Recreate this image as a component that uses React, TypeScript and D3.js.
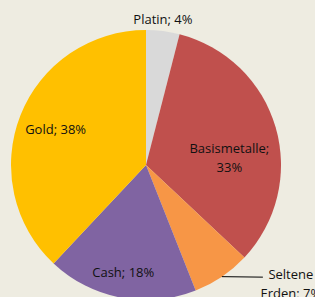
import { pie, arc } from 'd3';

const categories = ['Platin', 'Basismetalle', 'Seltene Erden', 'Cash', 'Gold'];
const shares = [4, 33, 7, 18, 38];
const labelLines = [
  ['Platin; 4%'],
  ['Basismetalle;', '33%'],
  ['Seltene', 'Erden; 7%'],
  ['Cash; 18%'],
  ['Gold; 38%'],
];
const colors = ['#d9d9d9', '#c0504d', '#f79646', '#8064a2', '#ffc000'];

const width = 315;
const height = 297;
const cx = 146;
const cy = 165;
const radius = 135;
const lineH = 19;

// label placement: radius factor and angle nudge (deg) from slice mid angle
const labelLayout = [
  { f: 1.09, da: -0.6 },
  { f: 0.62, da: 11 },
  { f: 1, da: 0, leader: true },
  { f: 0.81, da: 1.2 },
  { f: 0.72, da: 0 },
];

const App = () => {
  const data = categories.map((c, i) => ({ label: c, value: shares[i], color: colors[i], lines: labelLines[i] }));
  const arcs = pie<any>().value((d) => d.value).sort(null)(data);
  const arcGen = arc<any>().innerRadius(0).outerRadius(radius);

  return (
    <svg
      width={width}
      height={height}
      style={{ position: 'absolute', left: 0, top: 0, background: '#eeece1' }}
      fontFamily="'Open Sans', 'Noto Sans', sans-serif"
      fontSize={13}
    >
      <g transform={`translate(${cx},${cy})`}>
        {arcs.map((a, i) => (
          <path key={i} d={arcGen(a) || ''} fill={a.data.color} />
        ))}
        {arcs.map((a, i) => {
          const lay = labelLayout[i];
          const mid = (a.startAngle + a.endAngle) / 2 + (lay.da * Math.PI) / 180;
          const r = radius * lay.f;
          const x = Math.sin(mid) * r;
          const y = -Math.cos(mid) * r;
          const lines = a.data.lines;
          if (lay.leader) {
            const ex = x + 41;
            const tx = ex + 28;
            return (
              <g key={i}>
                <polyline points={`${x},${y} ${ex},${y + 0.5}`} fill="none" stroke="#000" strokeWidth={1} />
                {lines.map((t, j) => (
                  <text key={j} x={tx} y={y - 3 + j * lineH} textAnchor="middle" dominantBaseline="central" fill="#111">
                    {t}
                  </text>
                ))}
              </g>
            );
          }
          const y0 = y - ((lines.length - 1) * lineH) / 2;
          return (
            <g key={i}>
              {lines.map((t, j) => (
                <text key={j} x={x} y={y0 + j * lineH} textAnchor="middle" dominantBaseline="central" fill="#111">
                  {t}
                </text>
              ))}
            </g>
          );
        })}
      </g>
    </svg>
  );
};

export default App;
